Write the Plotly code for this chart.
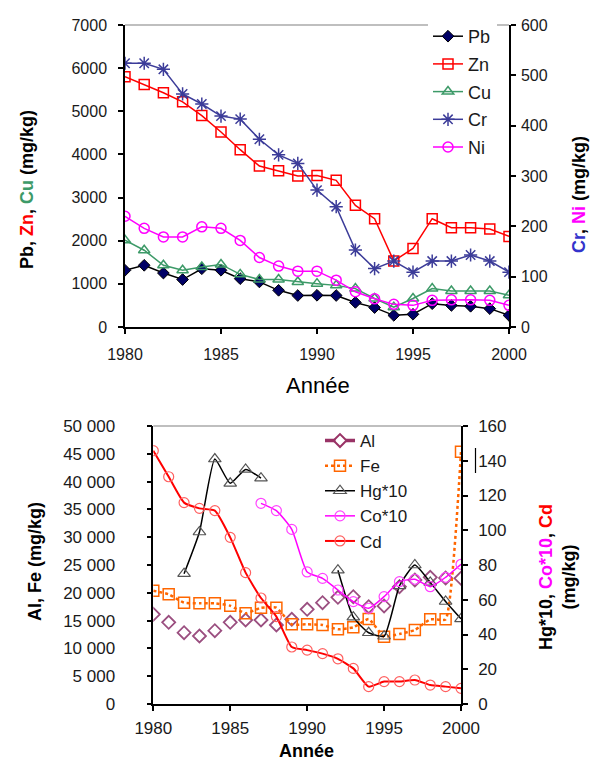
import plotly.graph_objects as go

years = list(range(1980, 2001))

# Top chart (left axis: Pb, Zn, Cu ; right axis: Cr, Ni)
pb = [1315, 1430, 1250, 1100, 1350, 1315, 1120, 1045, 850, 730, 735, 730, 570, 450, 270, 295, 540, 500, 480, 425, 270]
zn = [5800, 5620, 5430, 5220, 4900, 4520, 4110, 3730, 3620, 3500, 3510, 3400, 2820, 2510, 1530, 1820, 2510, 2300, 2300, 2270, 2100]
cu = [2010, 1780, 1430, 1315, 1390, 1450, 1220, 1100, 1100, 1045, 1005, 965, 890, 660, 460, 660, 890, 835, 835, 835, 735]
cr = [524, 524, 512, 463, 443, 419, 413, 373, 342, 325, 272, 239, 153, 116, 131, 109, 131, 131, 143, 131, 109]
ni = [220, 196, 179, 179, 199, 196, 172, 138, 121, 111, 111, 93, 70, 56, 45, 43, 53, 54, 54, 53, 43]

# Bottom chart (left axis: Al, Fe ; right axis: Hg*10, Co*10, Cd)
al = [16130, 14690, 12830, 12230, 13180, 14690, 15110, 15110, 14210, 15230, 17030, 18220, 19190, 19300, 17500, 17630, 21100, 22300, 22780, 22660, 22600]
fe = [20380, 19730, 18220, 18110, 18110, 17680, 16310, 17320, 17320, 14330, 14330, 14210, 13430, 13790, 15290, 12100, 12590, 13310, 15230, 15230, 45380]
hg10 = [None, None, 75, 99, 141, 127, 135, 130, None, None, None, None, 77, 50, 41, 39, 68, 80, 70, 59, 49]
co10 = [None, None, None, None, None, None, None, 115.5, 111.3, 100.5, 76, 72.3, 65.6, 58.9, 55.1, 61.8, 70.4, 71.8, 67.5, 72.9, 80.4]
cd = [145.8, 130.8, 115.9, 112.6, 111.3, 95.9, 75.6, 61, 50.3, 32.8, 31, 29, 26, 20.5, 10, 12.9, 12.9, 13.8, 10.9, 10, 9]

x_ticks = [1980, 1985, 1990, 1995, 2000]
top_left_ticks = [0, 1000, 2000, 3000, 4000, 5000, 6000, 7000]
top_right_ticks = [0, 100, 200, 300, 400, 500, 600]
bot_left_ticks = [0, 5000, 10000, 15000, 20000, 25000, 30000, 35000, 40000, 45000, 50000]
bot_left_text = ["0", "5 000", "10 000", "15 000", "20 000", "25 000", "30 000", "35 000", "40 000", "45 000", "50 000"]
bot_right_ticks = [0, 20, 40, 60, 80, 100, 120, 140, 160]

W, H = 597, 762
FONT = "Liberation Sans, Arial, sans-serif"
TXT = "#1a1a1a"


def px_x(p):
    return p / W


def px_y(p):
    return 1 - p / H


fig = go.Figure()

# ---------- top chart ----------
fig.add_trace(go.Scatter(x=years, y=pb, name="Pb", mode="lines+markers", legend="legend", legendgroup="t1",
                         line=dict(color="#000000", width=1.5),
                         marker=dict(symbol="diamond", size=9, color="#000066", line=dict(color="#000000", width=1)),
                         xaxis="x", yaxis="y"))
fig.add_trace(go.Scatter(x=years, y=zn, name="Zn", mode="lines+markers", legend="legend", legendgroup="t2",
                         line=dict(color="#ff0000", width=1.5),
                         marker=dict(symbol="square-open", size=10, color="#ff0000", line=dict(width=1.5)),
                         xaxis="x", yaxis="y"))
fig.add_trace(go.Scatter(x=years, y=cu, name="Cu", mode="lines+markers", legend="legend", legendgroup="t3",
                         line=dict(color="#3d9a68", width=1.5),
                         marker=dict(symbol="triangle-up-open", size=10, color="#3d9a68", line=dict(width=1.5)),
                         xaxis="x", yaxis="y"))
fig.add_trace(go.Scatter(x=years, y=cr, name="Cr", mode="lines+markers", legend="legend", legendgroup="t4",
                         line=dict(color="#3c3c99", width=1.5),
                         marker=dict(symbol="asterisk-open", size=11, color="#3c3c99", line=dict(width=1.5, color="#3c3c99")),
                         xaxis="x", yaxis="y2"))
fig.add_trace(go.Scatter(x=years, y=ni, name="Ni", mode="lines+markers", legend="legend", legendgroup="t5",
                         line=dict(color="#ff00ff", width=1.5),
                         marker=dict(symbol="circle-open", size=10, color="#ff00ff", line=dict(width=1.5)),
                         xaxis="x", yaxis="y2"))

# ---------- bottom chart ----------
fig.add_trace(go.Scatter(x=years, y=al, name="Al", mode="markers", showlegend=False,
                         marker=dict(symbol="diamond-open", size=10, color="#9b4f80", line=dict(width=1.8)),
                         xaxis="x2", yaxis="y3"))
fig.add_trace(go.Scatter(x=[None], y=[None], name="Al", mode="lines+markers", legend="legend2",
                         line=dict(color="#993366", width=3.5, dash="dash"),
                         marker=dict(symbol="diamond-open", size=10, color="#993366", line=dict(width=2)),
                         xaxis="x2", yaxis="y3"))
fig.add_trace(go.Scatter(x=years, y=fe, name="Fe", mode="lines+markers", legend="legend2",
                         line=dict(color="#ff6600", width=2.5, dash="dot", shape="spline", smoothing=0.4),
                         marker=dict(symbol="square-open", size=11, color="#ff6600", line=dict(width=1.5)),
                         xaxis="x2", yaxis="y3"))
fig.add_trace(go.Scatter(x=years, y=hg10, name="Hg*10", mode="lines+markers", legend="legend2",
                         line=dict(color="#000000", width=1.5, shape="spline", smoothing=0.5),
                         marker=dict(symbol="triangle-up-open", size=11, color="#555555", line=dict(width=1.2)),
                         xaxis="x2", yaxis="y4"))
fig.add_trace(go.Scatter(x=years, y=co10, name="Co*10", mode="lines+markers", legend="legend2",
                         line=dict(color="#ff00ff", width=1.5, shape="spline", smoothing=0.5),
                         marker=dict(symbol="circle-open", size=10, color="#ff44ff", line=dict(width=1.2)),
                         xaxis="x2", yaxis="y4"))
fig.add_trace(go.Scatter(x=years, y=cd, name="Cd", mode="lines+markers", legend="legend2",
                         line=dict(color="#ff0000", width=2, shape="spline", smoothing=0.5),
                         marker=dict(symbol="circle-open", size=10, color="#ff6060", line=dict(width=1.2)),
                         xaxis="x2", yaxis="y4"))

axis_common = dict(showline=True, linecolor="#000000", linewidth=1.5, showgrid=False, zeroline=False,
                   ticks="outside", ticklen=5, tickwidth=1.5, tickcolor="#000000", automargin=False)

top_dom_x = [px_x(125), px_x(509)]
top_dom_y = [px_y(327), px_y(25)]
bot_dom_x = [px_x(153.3), px_x(461)]
bot_dom_y = [px_y(704), px_y(426)]

fig.update_layout(
    width=W, height=H,
    margin=dict(l=0, r=0, t=0, b=0, autoexpand=False),
    paper_bgcolor="white", plot_bgcolor="white",
    font=dict(family=FONT, color=TXT),
    xaxis=dict(domain=top_dom_x, anchor="y", range=[1980, 2000], tickvals=x_ticks,
               tickfont=dict(size=16), ticklabelstandoff=7, **axis_common),
    yaxis=dict(domain=top_dom_y, anchor="x", range=[0, 7000], tickvals=top_left_ticks,
               tickfont=dict(size=16), ticklabelstandoff=8, **axis_common),
    yaxis2=dict(overlaying="y", side="right", anchor="x", range=[0, 600], tickvals=top_right_ticks,
                tickfont=dict(size=16), ticklabelstandoff=2, **axis_common),
    xaxis2=dict(domain=bot_dom_x, anchor="y3", range=[1980, 2000], tickvals=x_ticks,
                tickfont=dict(size=17), ticklabelstandoff=3, **axis_common),
    yaxis3=dict(domain=bot_dom_y, anchor="x2", range=[0, 50000], tickvals=bot_left_ticks, ticktext=bot_left_text,
                tickfont=dict(size=17), ticklabelstandoff=28, **axis_common),
    yaxis4=dict(overlaying="y3", side="right", anchor="x2", range=[0, 160], tickvals=bot_right_ticks,
                tickfont=dict(size=17), ticklabelstandoff=7, **axis_common),
    legend=dict(x=px_x(428), y=px_y(18), xanchor="left", yanchor="top", bgcolor="white",
                font=dict(size=18, color=TXT), tracegroupgap=1.3, itemwidth=30),
    legend2=dict(x=px_x(320), y=px_y(423), xanchor="left", yanchor="top", bgcolor="rgba(255,255,255,0)",
                 font=dict(size=17, color=TXT), tracegroupgap=0, itemwidth=30),
    showlegend=True,
)

# top borders (light grey) of both plot areas
fig.add_shape(type="line", xref="paper", yref="paper", x0=top_dom_x[0], x1=top_dom_x[1], y0=top_dom_y[1], y1=top_dom_y[1],
              line=dict(color="#aaaaaa", width=1.5), layer="below")
fig.add_shape(type="line", xref="paper", yref="paper", x0=bot_dom_x[0], x1=bot_dom_x[1], y0=bot_dom_y[1], y1=bot_dom_y[1],
              line=dict(color="#aaaaaa", width=1.5), layer="below")
# small vertical stroke next to the 140 label
fig.add_shape(type="line", xref="paper", yref="paper", x0=px_x(475.5), x1=px_x(475.5), y0=px_y(448), y1=px_y(473),
              line=dict(color="#000000", width=1.2))

ann = [
    dict(text="<b>Pb, <span style='color:#ff0000'>Zn</span>, <span style='color:#3d9a68'>Cu</span> (mg/kg)</b>",
         x=px_x(27), y=px_y(190), textangle=-90, yanchor="middle", font=dict(size=18, color="#000000")),
    dict(text="<b><span style='color:#3333cc'>Cr</span>, <span style='color:#ff00ff'>Ni</span> (mg/kg)</b>",
         x=px_x(579), y=px_y(195), textangle=-90, yanchor="middle", font=dict(size=18, color="#000000")),
    dict(text="Année", x=px_x(318), y=px_y(385), yanchor="middle", font=dict(size=22, color="#000000")),
    dict(text="<b>Al, Fe (mg/kg)</b>", x=px_x(35), y=px_y(562), textangle=-90, yanchor="middle",
         font=dict(size=18, color="#000000")),
    dict(text="<b>Hg*10, <span style='color:#ff00ff'>Co*10</span>, <span style='color:#ff0000'>Cd</span><br>(mg/kg)</b>",
         x=px_x(557), y=px_y(577), textangle=-90, yanchor="middle", font=dict(size=18, color="#000000")),
    dict(text="<b>Année</b>", x=px_x(306), y=0, yanchor="bottom", font=dict(size=18, color="#000000")),
]
for a in ann:
    fig.add_annotation(xref="paper", yref="paper", showarrow=False, xanchor="center", borderpad=0, **a)

fig.write_html("out.html", config={"displayModeBar": False},
               post_script="document.body.style.margin='0px';document.body.style.padding='0px';")
